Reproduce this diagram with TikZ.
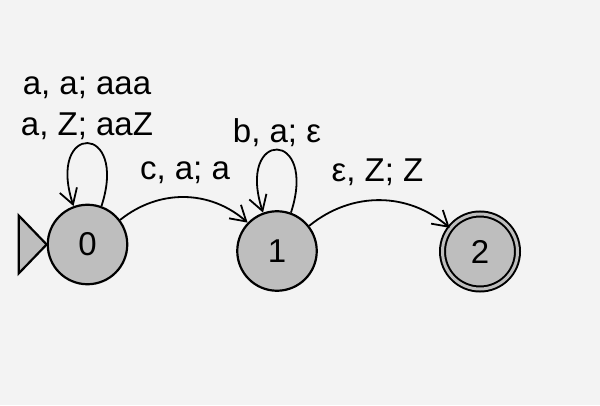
\documentclass[tikz,border=0pt]{standalone}
\usepackage{fontspec}
\setmainfont{Liberation Sans}
\usetikzlibrary{arrows.meta}
\definecolor{stategray}{RGB}{190,190,190}
\definecolor{bggray}{RGB}{243,243,243}

\begin{document}
\begin{tikzpicture}[x=1pt,y=1pt]
\fill[bggray] (0,0) rectangle (600,405);
\useasboundingbox (0,0) rectangle (600,405);
\begin{scope}
	\tikzstyle{every node}=[font=\fontsize{33}{40}\selectfont]
	\tikzstyle{state}=[circle, draw, fill=stategray, line width=2.2pt, minimum size=79.5pt, inner sep=0pt]
	\tikzstyle{final}=[state, line width=2pt, double=stategray, double distance=3pt, minimum size=75pt]
	\tikzstyle{trans}=[line width=1.8pt, -{Straight Barb[length=15pt,width=18pt]}]
	\node[state] (q0) at (87.5,160.5) {0};
	\node[state] (q1) at (277,154) {1};
	\node[final] (q2) at (480,153.5) {2};
	
	\node[anchor=base] (l0a) at (87,310) {a, a; aaa};
	\node[anchor=base] (l0b) at (87,269) {a, Z; aaZ};
	\node[anchor=base] (l1) at (277,262) {b, a; ε};
	\node[anchor=base] (l01) at (185,225) {c, a; a};
	\node[anchor=base] (l12) at (377.5,223) {ε, Z; Z};
	
	% start arrow
	\draw [line width=2.2pt, fill=stategray, line join=miter] (q0.west) -- ++(-28,29) -- ++(0,-58) -- cycle;
	
	\draw [trans] (q0.70) .. controls +(72:88) and +(108:88) .. (q0.110);
	\draw [trans] (q1.70) .. controls +(72:88) and +(108:88) .. (q1.110);
	\draw [trans] (q0.37) to[bend left=40] (q1.136);
	\draw [trans] (q1.38) to[bend left=40] (q2.142);
\end{scope}
\end{tikzpicture}
\end{document}
